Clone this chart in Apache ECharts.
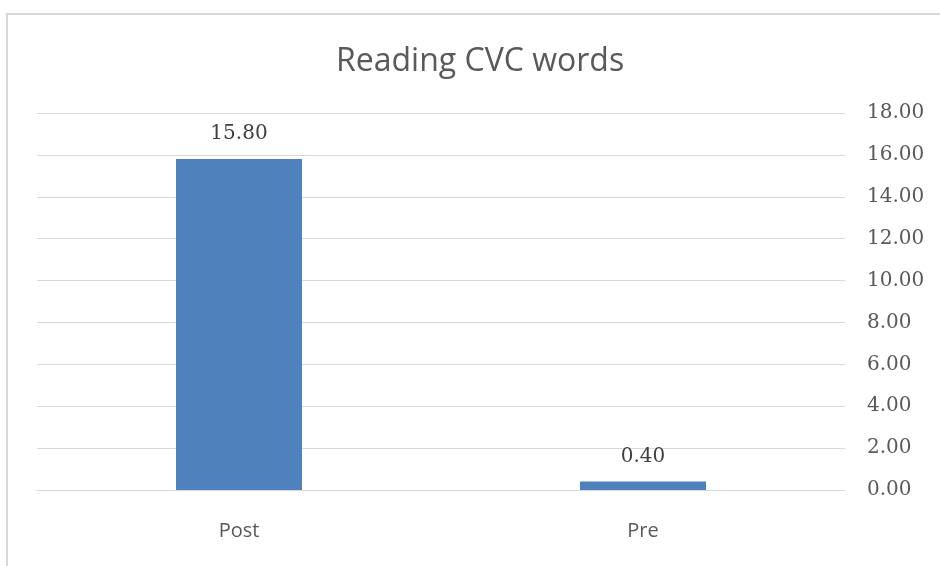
<!DOCTYPE html>
<html>
<head>
<meta charset="utf-8">
<script src="https://cdn.jsdelivr.net/npm/echarts@6/dist/echarts.min.js"></script>
<style>
  html, body { margin: 0; padding: 0; background: #fff; overflow: hidden; }
  #frame { position: absolute; left: 6px; top: 13px; width: 940px; height: 560px;
           border-top: 2px solid #d9d9d9; border-left: 2px solid #d9d9d9; }
  #main { position: absolute; left: 0; top: 0; width: 940px; height: 566px; }
</style>
</head>
<body>
<div id="frame"></div>
<div id="main"></div>
<script>
// chart data
var categories = ['Post', 'Pre'];
var scores = [15.80, 0.40];
var yMin = 0, yMax = 18, yStep = 2;

var chart = echarts.init(document.getElementById('main'));

var option = {
    animation: false,
    title: {
        text: 'Reading CVC words',
        left: 331,
        top: 41,
        textStyle: {
            fontFamily: 'Open Sans',
            fontSize: 32,
            fontWeight: 'normal',
            color: '#595959'
        }
    },
    grid: {
        left: 37,
        right: 95,
        top: 113,
        bottom: 76
    },
    xAxis: {
        type: 'category',
        data: categories,
        axisLine: { show: true, lineStyle: { color: '#d9d9d9', width: 1 } },
        axisTick: { show: false },
        axisLabel: {
            margin: 31,
            fontFamily: 'Open Sans',
            fontSize: 20,
            color: '#595959'
        }
    },
    yAxis: {
        type: 'value',
        position: 'right',
        min: yMin,
        max: yMax,
        interval: yStep,
        axisLine: { show: false },
        axisTick: { show: false },
        splitLine: { lineStyle: { color: '#d9d9d9', width: 1 } },
        axisLabel: {
            margin: 22,
            align: 'left',
            fontFamily: 'DejaVu Serif',
            fontSize: 20,
            color: '#595959',
            formatter: function (v) { return v.toFixed(2); }
        }
    },
    series: [
        {
            type: 'bar',
            data: scores,
            barWidth: 126,
            itemStyle: { color: '#4f81bd' },
            label: {
                show: true,
                position: 'top',
                distance: 15,
                fontFamily: 'DejaVu Serif',
                fontSize: 20,
                color: '#404040',
                formatter: function (p) { return p.value.toFixed(2); }
            }
        }
    ]
};

chart.setOption(option);
</script>
</body>
</html>
